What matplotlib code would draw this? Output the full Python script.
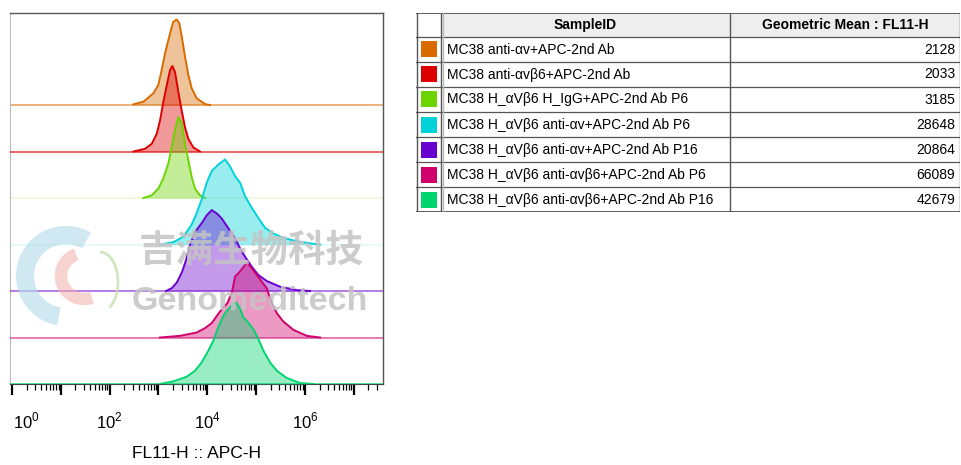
import numpy as np
import matplotlib
matplotlib.use("Agg")
import matplotlib.pyplot as plt
from matplotlib.patches import Rectangle, Arc
from matplotlib.transforms import ScaledTranslation

plt.rcParams["font.family"] = ["Liberation Sans", "DejaVu Sans"]
plt.rcParams["mathtext.fontset"] = "custom"
plt.rcParams["mathtext.rm"] = "Liberation Sans"

# --------------------------
# Data
# --------------------------
sample_ids = [
    "MC38 anti-\u03b1v+APC-2nd Ab",
    "MC38 anti-\u03b1v\u03b26+APC-2nd Ab",
    "MC38 H_\u03b1V\u03b26 H_IgG+APC-2nd Ab P6",
    "MC38 H_\u03b1V\u03b26 anti-\u03b1v+APC-2nd Ab P6",
    "MC38 H_\u03b1V\u03b26 anti-\u03b1v+APC-2nd Ab P16",
    "MC38 H_\u03b1V\u03b26 anti-\u03b1v\u03b26+APC-2nd Ab P6",
    "MC38 H_\u03b1V\u03b26 anti-\u03b1v\u03b26+APC-2nd Ab P16",
]
geo_means = [2128, 2033, 3185, 28648, 20864, 66089, 42679]
colors = ["#D86A00", "#DC0000", "#6CD400", "#00D2D8", "#6A00D0", "#D0006A", "#00D46E"]

# histogram outlines: log10(FL11-H) and mode-normalised height
orange_x = [2.486, 2.69, 2.895, 2.998, 3.066, 3.135, 3.238, 3.305, 3.375, 3.428, 3.477,
            3.545, 3.613, 3.682, 3.785, 3.955, 4.057]
orange_y = [0.015, 0.07, 0.25, 0.43, 0.75, 1.11, 1.54, 1.79, 1.84, 1.76, 1.48,
            1.04, 0.645, 0.36, 0.145, 0.02, 0.0]
red_x = [2.486, 2.725, 2.863, 2.965, 3.033, 3.1, 3.17, 3.238, 3.285, 3.34, 3.408,
         3.477, 3.545, 3.613, 3.715, 3.852]
red_y = [0.0, 0.058, 0.165, 0.38, 0.666, 1.06, 1.42, 1.75, 1.84, 1.71, 1.28,
         0.88, 0.52, 0.27, 0.09, 0.0]
lime_x = [2.69, 2.863, 2.998, 3.1, 3.203, 3.273, 3.34, 3.408, 3.477, 3.545, 3.613,
          3.682, 3.75, 3.852, 3.955]
lime_y = [0.0, 0.058, 0.2, 0.42, 0.74, 1.10, 1.46, 1.74, 1.60, 1.17, 0.81,
          0.45, 0.2, 0.058, 0.0]
cyan_x = [3.033, 3.305, 3.51, 3.682, 3.785, 3.887, 3.99, 4.092, 4.227, 4.365, 4.467,
          4.57, 4.672, 4.775, 4.912, 5.047, 5.184, 5.355, 5.559, 5.834, 6.174, 6.311]
cyan_y = [0.0, 0.05, 0.166, 0.43, 0.68, 0.968, 1.33, 1.58, 1.72, 1.83, 1.68,
          1.47, 1.33, 1.04, 0.79, 0.57, 0.36, 0.237, 0.144, 0.071, 0.015, 0.0]
purple_x = [3.156, 3.279, 3.381, 3.484, 3.566, 3.648, 3.75, 3.887, 3.99, 4.092, 4.195,
            4.297, 4.432, 4.57, 4.672, 4.775, 4.912, 5.047, 5.219, 5.492, 5.834, 6.107]
purple_y = [0.0, 0.065, 0.19, 0.41, 0.667, 0.99, 1.27, 1.46, 1.63, 1.74, 1.67,
            1.56, 1.35, 1.13, 0.918, 0.737, 0.523, 0.344, 0.215, 0.093, 0.02, 0.0]
pink_x = [3.033, 3.443, 3.785, 3.955, 4.092, 4.262, 4.412, 4.502, 4.57, 4.672, 4.775,
          4.822, 4.912, 5.014, 5.117, 5.219, 5.322, 5.424, 5.559, 5.764, 6.039, 6.311]
pink_y = [0.0, 0.036, 0.107, 0.202, 0.31, 0.56, 0.74, 0.955, 1.31, 1.42, 1.56,
          1.61, 1.49, 1.35, 1.20, 1.06, 0.74, 0.525, 0.344, 0.166, 0.036, 0.0]
green_x = [3.033, 3.305, 3.58, 3.75, 3.887, 4.023, 4.125, 4.227, 4.33, 4.432, 4.535,
           4.59, 4.658, 4.74, 4.842, 4.945, 5.047, 5.15, 5.287, 5.424, 5.629, 5.902, 6.174]
green_y = [0.0, 0.056, 0.157, 0.286, 0.465, 0.716, 0.93, 1.22, 1.47, 1.61, 1.72,
           1.75, 1.65, 1.43, 1.32, 1.18, 0.968, 0.716, 0.465, 0.286, 0.129, 0.02, 0.0]

hist_x = [orange_x, red_x, lime_x, cyan_x, purple_x, pink_x, green_x]
hist_y = [orange_y, red_y, lime_y, cyan_y, purple_y, pink_y, green_y]
baseline_alpha = [0.6, 0.7, 0.15, 0.12, 0.6, 0.6, 0.8]

# --------------------------
# Figure
# --------------------------
W, H = 961, 465
fig = plt.figure(figsize=(W / 100, H / 100), dpi=100)

ax = fig.add_axes([10 / W, 1 - 384 / H, 373 / W, 371 / H])
n = len(sample_ids)
for i in range(n):
    off = n - 1 - i
    xs = 10 ** np.array(hist_x[i])
    ys = np.array(hist_y[i]) + off
    ax.axhline(off, color=colors[i], lw=1.2, alpha=baseline_alpha[i], zorder=2 + i)
    ax.fill_between(xs, off, ys, color=colors[i], alpha=0.4, lw=0, zorder=2 + i)
    ax.plot(xs, ys, color=colors[i], lw=1.4, zorder=2 + i)

ax.set_xscale("log")
ax.set_yticks([])

major = [10.0 ** k for k in range(0, 8)]
ax.set_xticks(major)
ax.set_xticklabels([f"$10^{{{k}}}$" if k % 2 == 0 else "" for k in range(0, 8)], fontsize=12)
ax.set_xticks([m * 10.0 ** k for k in range(0, 8) for m in range(2, 10)], minor=True)
ax.set_xlim(10 ** -0.04, 10 ** 7.6)
ax.set_ylim(0, 7.98)
ax.tick_params(axis="x", which="major", length=8, width=1.6, direction="out", pad=11, color="black")
ax.tick_params(axis="x", which="minor", length=4, width=0.9, direction="out", color="black")
first = ax.get_xticklabels()[0]
first.set_transform(first.get_transform() + ScaledTranslation(0.14, 0, fig.dpi_scale_trans))

for side in ["top", "right"]:
    ax.spines[side].set_color("#555555")
    ax.spines[side].set_linewidth(1.0)
ax.spines["left"].set_color("#bbbbbb")
ax.spines["bottom"].set_color("#444444")
ax.set_xlabel("FL11-H :: APC-H", fontsize=12.5, labelpad=11)

# watermark
logo = fig.add_axes([0, 0, 1, 1], facecolor="none")
logo.set_xlim(0, W)
logo.set_ylim(H, 0)
logo.axis("off")
logo.add_patch(Arc((66, 276), 82, 82, theta1=100, theta2=300, lw=13, color="#b6dcea", alpha=0.65))
logo.add_patch(Arc((84, 276), 46, 46, theta1=70, theta2=250, lw=9, color="#f2b0a8", alpha=0.55))
logo.add_patch(Arc((100, 282), 36, 60, theta1=-90, theta2=70, lw=2, color="#c8e0b0", alpha=0.8))
fig.text(251 / W, 1 - 250 / H, "\u5409\u6ee1\u751f\u7269\u79d1\u6280", fontsize=27, fontweight="bold",
         color="#c4c4c4", alpha=0.85, ha="center", va="center",
         family=["Noto Sans CJK SC", "DejaVu Sans"], zorder=20)
fig.text(250 / W, 1 - 302 / H, "Genomeditech", fontsize=24.5, fontweight="bold",
         color="#c4c4c4", alpha=0.85, ha="center", va="center", zorder=20)

# --------------------------
# Table
# --------------------------
tx0, ty0 = 416, 13
col_edges = [0, 25, 314, 544]
header_h, row_h = 24, 25
tbl_h = header_h + row_h * n
tab = fig.add_axes([tx0 / W, 1 - (ty0 + tbl_h) / H, col_edges[-1] / W, tbl_h / H])
tab.set_xlim(0, col_edges[-1])
tab.set_ylim(tbl_h, 0)
tab.axis("off")

tab.add_patch(Rectangle((col_edges[1], 0), col_edges[-1] - col_edges[1], header_h,
                        facecolor="#eeeeee", edgecolor="none"))
tab.text((col_edges[1] + col_edges[2]) / 2, header_h / 2, "SampleID", fontsize=10,
         fontweight="bold", ha="center", va="center")
tab.text((col_edges[2] + col_edges[3]) / 2, header_h / 2, "Geometric Mean : FL11-H", fontsize=10,
         fontweight="bold", ha="center", va="center")

for i in range(n):
    yc = header_h + row_h * (i + 0.5)
    tab.add_patch(Rectangle((4.5, yc - 8), 16, 16, facecolor=colors[i], edgecolor="none"))
    tab.text(col_edges[1] + 6, yc, sample_ids[i], fontsize=10, ha="left", va="center")
    tab.text(col_edges[3] - 5, yc, str(geo_means[i]), fontsize=10, ha="right", va="center")

for k in range(n + 1):
    yy = header_h + row_h * k
    tab.plot([0, col_edges[-1]], [yy, yy], color="#555555", lw=0.9)
tab.plot([0, col_edges[-1]], [0.5, 0.5], color="#444444", lw=1.2)
tab.plot([0, col_edges[-1]], [tbl_h - 0.5, tbl_h - 0.5], color="#444444", lw=1.2)
for cx in col_edges:
    cx = min(max(cx, 0.5), col_edges[-1] - 0.5)
    tab.plot([cx, cx], [0, tbl_h], color="#555555", lw=1.0)
tab.plot([col_edges[1] + 2, col_edges[1] + 2], [0, tbl_h], color="#bbbbbb", lw=1.0)

fig.savefig("out.png", dpi=100)
